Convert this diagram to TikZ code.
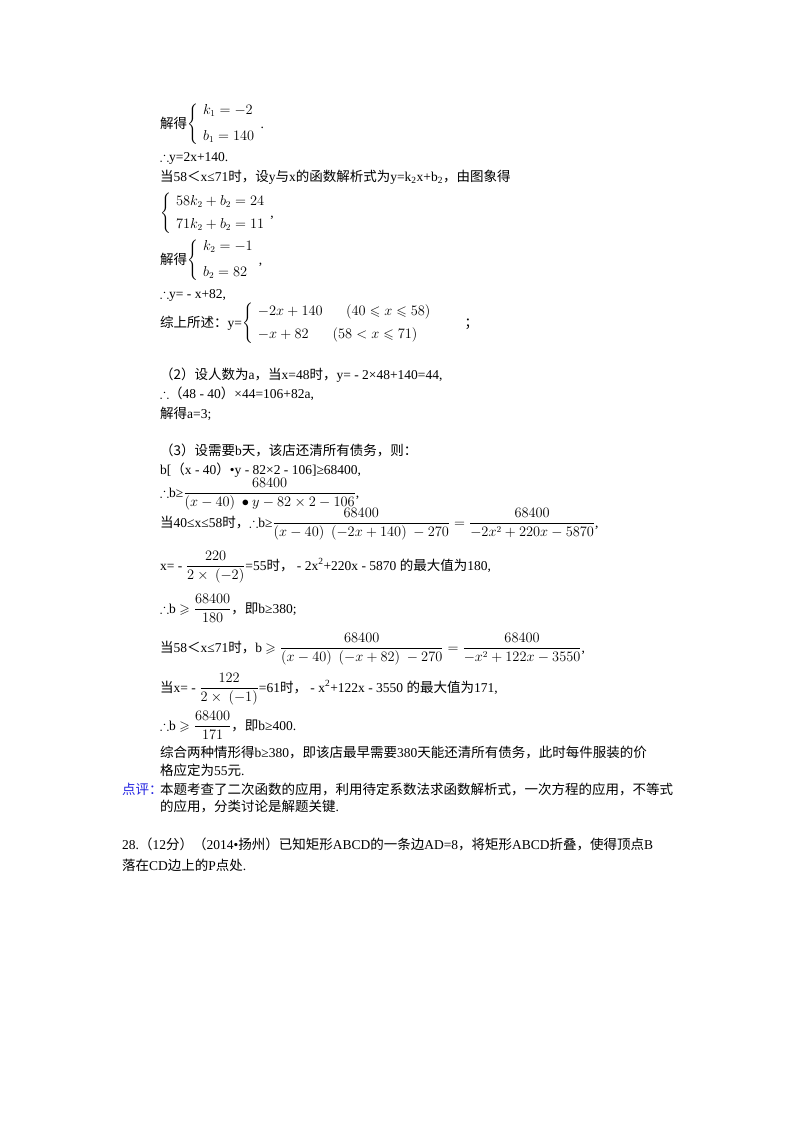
\documentclass[tikz,border=0pt]{standalone}
\usepackage{amsmath,amssymb}
\usepackage{fontspec}
\setmainfont{Liberation Serif}
\newfontfamily\cjk{Noto Sans CJK SC}
\newcommand{\zh}[1]{{\cjk #1}}
\definecolor{remarkblue}{RGB}{35,35,225}
\tikzset{
  line/.style={anchor=base west, inner sep=0pt},
  x=1pt, y=-1pt
}
\begin{document}
\fontsize{13.5}{16}\selectfont
\begin{tikzpicture}
  \useasboundingbox (0,0) rectangle (800,1132);
  % part (1), second piece
  \node[line] (l1) at (160,128) {\zh{解得}$\left\{\begin{array}{l}k_1=-2\\[10pt] b_1=140\end{array}\right.$.};
  \node[line] (l2) at (160,161) {$\therefore$y=2x+140.};
  \node[line] (l3) at (160,181) {\zh{当}58\zh{＜}x≤71\zh{时，设}y\zh{与}x\zh{的函数解析式为}y=k\textsubscript{2}x+b\textsubscript{2}\zh{，由图象得}};
  \node[line] (l4) at (160,217) {$\left\{\begin{array}{l}58k_2+b_2=24\\[7pt] 71k_2+b_2=11\end{array}\right.$,};
  \node[line] (l5) at (160,264) {\zh{解得}$\left\{\begin{array}{l}k_2=-1\\[10pt] b_2=82\end{array}\right.$,};
  \node[line] (l6) at (160,298) {$\therefore$y= - x+82,};
  \node[line] (l7) at (160,327) {\zh{综上所述：}y=$\left\{\begin{array}{ll}-2x+140 & \quad(40\leqslant x\leqslant 58)\\[7pt] -x+82 & (58<x\leqslant 71)\end{array}\right.$\hspace{28pt}\zh{；}};
  % part (2)
  \node[line] (l8) at (160,379) {\zh{（2）设人数为}a\zh{，当}x=48\zh{时，}y= - 2×48+140=44,};
  \node[line] (l9) at (160,398) {$\therefore$\zh{（}48 - 40\zh{）}×44=106+82a,};
  \node[line] (l10) at (160,418) {\zh{解得}a=3;};
  % part (3)
  \node[line] (l11) at (160,455) {\zh{（3）设需要}b\zh{天，该店还清所有债务，则：}};
  \node[line] (l12) at (160,474) {b[\zh{（}x - 40\zh{）}•y - 82×2 - 106]≥68400,};
  \node[line] (l13) at (160,497) {$\therefore$b≥$\dfrac{\smash{68400}}{\smash[b]{(x-40)\ \bullet y-82\times 2-106}}$,};
  \node[line] (l14) at (160,527) {\zh{当}40≤x≤58\zh{时，}$\therefore$b≥$\dfrac{68400}{(x-40)\ \ (-2x+140)\ -270}=\dfrac{68400}{-2x^2+220x-5870}$,};
  \node[line] (l15) at (160,570) {x= - $\dfrac{220}{2\times\ (-2)}$=55\zh{时，} - 2x\textsuperscript{2}+220x - 5870 \zh{的最大值为}180,};
  \node[line] (l16) at (160,613) {$\therefore$b $\geqslant\dfrac{68400}{180}$\zh{，即}b≥380;};
  \node[line] (l17) at (160,652) {\zh{当}58\zh{＜}x≤71\zh{时，}b $\geqslant\dfrac{68400}{(x-40)\ \ (-x+82)\ -270}=\dfrac{68400}{-x^2+122x-3550}$,};
  \node[line] (l18) at (160,692) {\zh{当}x= - $\dfrac{122}{2\times\ (-1)}$=61\zh{时，} - x\textsuperscript{2}+122x - 3550 \zh{的最大值为}171,};
  \node[line] (l19) at (160,730) {$\therefore$b $\geqslant\dfrac{68400}{171}$\zh{，即}b≥400.};
  \node[line] (l20) at (160,757) {\zh{综合两种情形得}b≥380\zh{，即该店最早需要}380\zh{天能还清所有债务，此时每件服装的价}};
  \node[line] (l21) at (160,775) {\zh{格应定为}55\zh{元}.};
  % remark
  \node[line, text=remarkblue] (rk) at (122,794) {\zh{点评：}};
  \node[line] (l22) at (160,794) {\zh{本题考查了二次函数的应用，利用待定系数法求函数解析式，一次方程的应用，不等式}};
  \node[line] (l23) at (160,811) {\zh{的应用，分类讨论是解题关键}.};
  % next problem
  \node[line] (q28) at (122,849) {28.\zh{（}12\zh{分）（}2014•\zh{扬州）已知矩形}ABCD\zh{的一条边}AD=8\zh{，将矩形}ABCD\zh{折叠，使得顶点}B};
  \node[line] (q28b) at (122,870) {\zh{落在}CD\zh{边上的}P\zh{点处}.};
\end{tikzpicture}
\end{document}
